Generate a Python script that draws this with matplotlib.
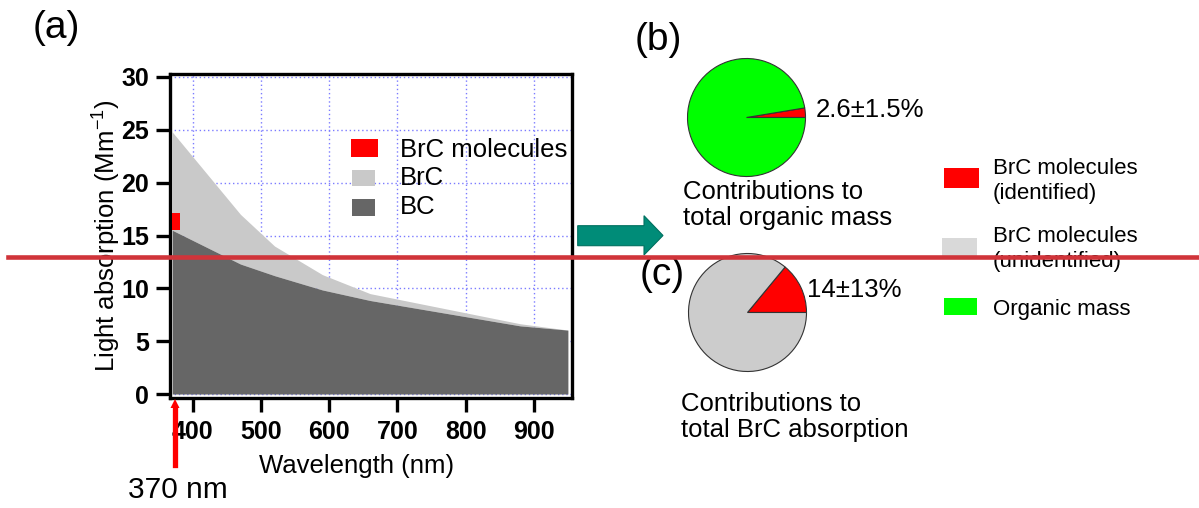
import matplotlib
matplotlib.use("Agg")
import matplotlib.pyplot as plt
import numpy as np
from matplotlib.patches import Rectangle, Polygon
from matplotlib.lines import Line2D

plt.rcParams['font.family'] = ['Liberation Sans', 'DejaVu Sans']
plt.rcParams['mathtext.fontset'] = 'custom'
plt.rcParams['mathtext.rm'] = 'Liberation Sans'
plt.rcParams['mathtext.it'] = 'Liberation Sans:italic'
plt.rcParams['mathtext.bf'] = 'Liberation Sans:bold'

# ---------------- data ----------------
wavelengths = [370, 470, 520, 590, 660, 880, 950]
bc_abs = [15.5, 12.3, 11.2, 9.85, 8.85, 6.45, 6.05]
brc_abs = [9.3, 4.7, 2.8, 1.45, 0.65, 0.2, 0.0]
brc_molecules_wl = [370]
brc_molecules_abs = [1.6]
x_ticks = [400, 500, 600, 700, 800, 900]
y_ticks = [0, 5, 10, 15, 20, 25, 30]

pie_b_labels = ['BrC molecules (identified)', 'Organic mass']
pie_b_values = [2.6, 97.4]
pie_c_labels = ['BrC molecules (identified)', 'BrC molecules (unidentified)']
pie_c_values = [14, 86]

W, H = 1199, 508
fig = plt.figure(figsize=(W / 100, H / 100), dpi=100)


def fx(x):
    return x / W


def fy(y):
    return 1 - y / H


# ---------------- panel (a) ----------------
L, R, T, B = 170, 572, 73.5, 397.5
ax = fig.add_axes([fx(L), fy(B), (R - L) / W, (B - T) / H])
ax.set_xlim(366.7, 956)
ax.set_ylim(-0.33, 30.33)
ax.set_axisbelow(True)
ax.grid(True, color='#7b7bff', linestyle=(0, (1, 2)), linewidth=1.0)

bc = np.array(bc_abs)
tot = bc + np.array(brc_abs)
ax.fill_between(wavelengths, 0, bc, color='#666666', linewidth=0, zorder=2)
ax.fill_between(wavelengths, bc, tot, color='#c9c9c9', linewidth=0, zorder=1.5)
ax.bar(brc_molecules_wl, brc_molecules_abs, width=11.7, bottom=bc[0],
       align='edge', color='#ff0000', zorder=3, linewidth=0)

ax.set_xticks(x_ticks)
ax.set_yticks(y_ticks)
for s in ax.spines.values():
    s.set_linewidth(2.4)
ax.tick_params(axis='both', direction='out', length=10, width=2.4,
               labelsize=18, pad=5)
ax.tick_params(axis='x', pad=6)
for lab in ax.get_xticklabels() + ax.get_yticklabels():
    lab.set_fontweight('bold')

ax.set_xlabel('Wavelength (nm)', fontsize=18.5)
ax.set_ylabel('Light absorption (Mm$^{-1}$)', fontsize=18.5)
ax.xaxis.set_label_coords(0.464, -0.175)
ax.yaxis.set_label_coords(-0.117, 0.5)

# in-axes legend (a)
leg_a = [('BrC molecules', '#ff0000', (350.7, 139.3, 378.3, 156.7), 150),
         ('BrC', '#c9c9c9', (351.7, 170, 375, 186), 178),
         ('BC', '#666666', (351.7, 199.3, 375, 216), 207)]
for lab, col, (x0, y0, x1, y1), yc in leg_a:
    fig.patches.append(Rectangle((fx(x0), fy(y1)), (x1 - x0) / W, (y1 - y0) / H,
                                 transform=fig.transFigure, facecolor=col,
                                 edgecolor='none', zorder=5))
    fig.text(fx(400), fy(yc), lab, fontsize=18.5, ha='left', va='center', zorder=6)

# panel labels
fig.text(fx(33), fy(28), '(a)', fontsize=28, ha='left', va='center')
fig.text(fx(635), fy(40), '(b)', fontsize=28, ha='left', va='center')
fig.text(fx(640), fy(275), '(c)', fontsize=28, ha='left', va='center')

# 370 nm arrow
fig.add_artist(Line2D([fx(175), fx(175)], [fy(465), fy(408)],
                      transform=fig.transFigure, color='#ff0000', lw=3.8))
fig.patches.append(Polygon([(fx(170.5), fy(408)), (fx(179.5), fy(408)), (fx(175), fy(399))],
                           closed=True, transform=fig.transFigure,
                           facecolor='#ff0000', edgecolor='none'))
fig.text(fx(128), fy(490), '370 nm', fontsize=21.5, ha='left', va='center')

# teal arrow
arrow_pts = [(577.7, 225.7), (644, 225.7), (644, 215.7), (663, 235.5),
             (644, 255), (644, 245.7), (577.7, 245.7)]
fig.patches.append(Polygon([(fx(x), fy(y)) for x, y in arrow_pts], closed=True,
                           transform=fig.transFigure, facecolor='#008c78',
                           edgecolor='#00705f', linewidth=0.8))

# ---------------- pies ----------------
def pie_axes(cx, cy, r):
    a = fig.add_axes([fx(cx - r), fy(cy + r), 2 * r / W, 2 * r / H])
    a.axis('off')
    return a


axb = pie_axes(746.5, 117.5, 59)
axb.pie(pie_b_values, colors=['#ff0000', '#00ff00'], startangle=0,
        counterclock=True, radius=1,
        wedgeprops=dict(edgecolor='#333333', linewidth=0.8))
axb.set_xlim(-1, 1)
axb.set_ylim(-1, 1)

axc = pie_axes(747.5, 312.5, 59)
axc.pie(pie_c_values, colors=['#ff0000', '#cccccc'], startangle=0,
        counterclock=True, radius=1,
        wedgeprops=dict(edgecolor='#333333', linewidth=0.8))
axc.set_xlim(-1, 1)
axc.set_ylim(-1, 1)

fig.text(fx(816), fy(110), '2.6\u00b11.5%', fontsize=18.5, ha='left', va='center')
fig.text(fx(807), fy(290), '14\u00b113%', fontsize=18.5, ha='left', va='center')

fig.text(fx(683), fy(205), 'Contributions to\ntotal organic mass', fontsize=18.5,
         ha='left', va='center', linespacing=1.15)
fig.text(fx(681), fy(417), 'Contributions to\ntotal BrC absorption', fontsize=18.5,
         ha='left', va='center', linespacing=1.15)

# right legend
leg_r = [('BrC molecules\n(identified)', '#ff0000', (944, 168, 979, 188), 181),
         ('BrC molecules\n(unidentified)', '#d9d9d9', (942, 238, 977, 257), 248.5),
         ('Organic mass', '#00ff00', (944, 298, 977, 315), 309)]
for lab, col, (x0, y0, x1, y1), yc in leg_r:
    fig.patches.append(Rectangle((fx(x0), fy(y1)), (x1 - x0) / W, (y1 - y0) / H,
                                 transform=fig.transFigure, facecolor=col,
                                 edgecolor='none'))
    fig.text(fx(993), fy(yc), lab, fontsize=16, ha='left', va='center',
             linespacing=1.25)

# red horizontal overlay line
fig.add_artist(Line2D([fx(8), 1.0], [fy(256.7), fy(256.7)], transform=fig.transFigure,
                      color='#d0343a', lw=3.3, zorder=20))

fig.savefig('out.png', dpi=100)
